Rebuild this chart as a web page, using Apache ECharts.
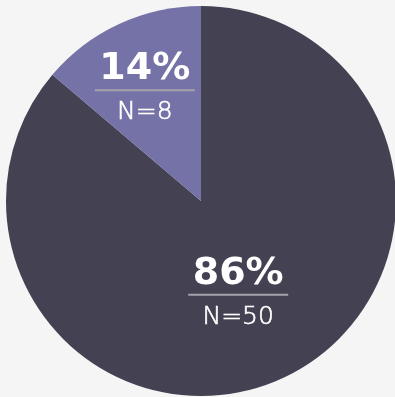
<!DOCTYPE html>
<html><head><meta charset="utf-8">
<style>html,body{margin:0;padding:0;background:#f5f5f5;}#c{width:395px;height:397px;}</style>
<script src="https://cdn.jsdelivr.net/npm/echarts@6/dist/echarts.min.js"></script>
</head><body><div id="c"></div>
<script>
const categories = ['A', 'B'];
const counts = [50, 8];
const colors = ['#444152', '#7472a6'];

const chart = echarts.init(document.getElementById('c'), null, {renderer: 'canvas'});
chart.setOption({
  backgroundColor: '#f5f5f5',
  animation: false,
  series: [{
    type: 'pie',
    center: [201, 201],
    radius: 195,
    startAngle: 90,
    clockwise: true,
    silent: true,
    data: categories.map((c, i) => ({name: c, value: counts[i], itemStyle: {color: colors[i]}})),
    label: {
      position: 'inside',
      formatter: p => '{p|' + Math.round(p.percent) + '%}\n{hr|}\n{n|N=' + p.value + '}',
      rich: {
        p: {fontFamily: 'DejaVu Sans', fontWeight: 'bold', fontSize: 38, color: '#ffffff', lineHeight: 42, align: 'center'},
        hr: {width: 100, height: 0, borderWidth: 2, borderColor: '#a3a2ad', align: 'center'},
        n: {fontFamily: 'DejaVu Sans', fontWeight: 200, fontSize: 25, color: '#ffffff', lineHeight: 45, align: 'center', textBorderColor: '#ffffff', textBorderWidth: 0.6}
      }
    },
    labelLayout: p => p.dataIndex === 1 ? {dx: -14, dy: -18} : {dx: -5, dy: 4},
    labelLine: {show: false}
  }]
});
</script></body></html>
